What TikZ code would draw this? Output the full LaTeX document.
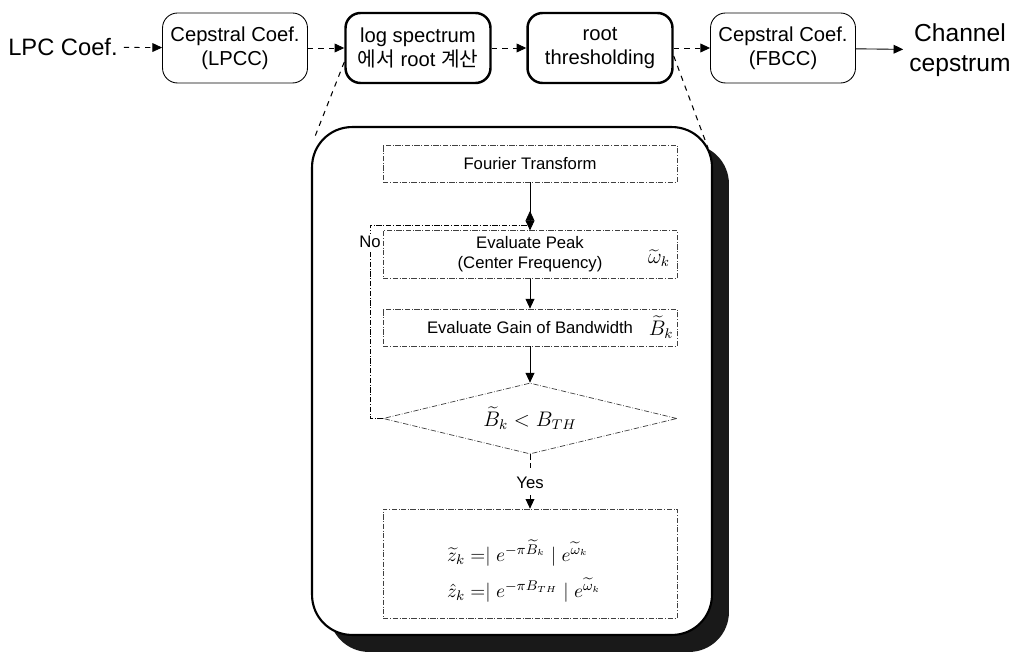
\documentclass[tikz,border=0pt]{standalone}
\usepackage{fontspec}
\setmainfont{Liberation Sans}
\newfontfamily\kor{Noto Sans CJK KR}
\usetikzlibrary{positioning, arrows.meta, shapes.geometric, shadows}

\begin{document}
\begin{tikzpicture}[x=0.02cm, y=-0.02cm,
  blk/.style      = {rectangle, draw, rounded corners=3mm, minimum width=2.9cm, minimum height=1.4cm, align=center, font=\fontsize{11.5}{13.5}\selectfont},
  blkthin/.style  = {blk, line width=0.5pt},
  blkthick/.style = {blk, line width=1.4pt},
  proc/.style     = {rectangle, draw=black!75, densely dashdotted, line width=0.4pt, minimum width=5.88cm, minimum height=0.74cm, align=center, font=\fontsize{9.5}{11.5}\selectfont},
  cond/.style     = {diamond, draw=black!75, densely dashdotted, line width=0.4pt, shape aspect=4.14, minimum width=5.88cm, minimum height=1.42cm, inner sep=0pt, font=\fontsize{12}{14}\selectfont},
  sym/.style      = {anchor=east, inner sep=1pt, font=\fontsize{12}{14}\selectfont},
  flow/.style     = {-{Triangle[length=5.5pt,width=5pt]}, line width=0.5pt},
  link/.style     = {flow, dashed},
  ]
  \useasboundingbox (0,0) rectangle (1021,652);

  % Top chain
  \node (lpc)     at (63,47)   [font=\fontsize{13.5}{16}\selectfont] {LPC Coef.};
  \node (lpcc)    at (235,48)  [blkthin]  {Cepstral Coef.\\(LPCC)};
  \node (logspec) at (418,48)  [blkthick] {log spectrum\\{\kor 에서} root {\kor 계산}};
  \node (thresh)  at (600,48)  [blkthick] {root\\thresholding};
  \node (fbcc)    at (783,48)  [blkthin]  {Cepstral Coef.\\(FBCC)};
  \node (chan)    at (960,50)  [align=center, font=\fontsize{14}{17}\selectfont] {Channel\\cepstrum};

  \draw[link] (lpc) -- (lpcc);
  \draw[link] (lpcc) -- (logspec);
  \draw[link] (logspec) -- (thresh);
  \draw[link] (thresh) -- (fbcc);
  \draw[flow] (fbcc) -- (chan);

  % Zoomed panel with shadow
  \node (panel) at (512,381) [rectangle, draw, line width=1.2pt, fill=white, rounded corners=0.8cm,
    minimum width=8cm, minimum height=10.16cm,
    general shadow={fill=black!90, shadow xshift=0.34cm, shadow yshift=-0.34cm}] {};
  \coordinate (zoomL) at (314,139);
  \coordinate (zoomR) at (708,148);
  \draw[dashed, line width=0.6pt] ([yshift=-0.28cm]logspec.west) -- (zoomL);
  \draw[dashed, line width=0.6pt] ([yshift=-0.16cm]thresh.east) -- (zoomR);

  % Steps inside the panel
  \node (fourier) at (530,163.5) [proc] {Fourier Transform};
  \node (peak)    at (530,254.5) [proc] {Evaluate Peak\\(Center Frequency)};
  \node (gain)    at (530,327.5) [proc] {Evaluate Gain of Bandwidth};
  \node (test)    at (530,418.5) [cond] {$\widetilde{B}_k < B_{TH}$};
  \node (update)  at (530,563.5) [proc, minimum height=2.18cm] {};
  \node (formula) at (524,571)   [align=left, font=\fontsize{11}{13}\selectfont]
    {$\widetilde{z}_k = \mid e^{-\pi\widetilde{B}_k}\mid e^{\widetilde{\omega}_k}$\\[6pt]
     $\hat{z}_k = \mid e^{-\pi B_{TH}}\mid e^{\widetilde{\omega}_k}$};
  \node (wk) at ([xshift=-3pt, yshift=-2pt]peak.east) [sym] {$\widetilde{\omega}_k$};
  \node (bk) at ([xshift=-1pt]gain.east) [sym] {$\widetilde{B}_k$};
  \node (yes) at (530,483) [font=\fontsize{9.5}{11.5}\selectfont] {Yes};

  \draw[flow] (fourier) -- (peak);
  \draw[flow] (peak) -- (gain);
  \draw[flow] (gain) -- (test);
  \draw[densely dashed, line width=0.4pt] (test.south) -- (yes);
  \draw[flow] (yes) -- (update);

  % No branch
  \coordinate (nocorner) at (370,225);
  \draw[flow, densely dashdotted, line width=0.4pt] (test.west) -| (nocorner) -- (nocorner -| peak.north) -- ++(0,-14);
  \node (no) at (370,242) [fill=white, inner sep=1pt, font=\fontsize{9.5}{11.5}\selectfont] {No};
\end{tikzpicture}
\end{document}
